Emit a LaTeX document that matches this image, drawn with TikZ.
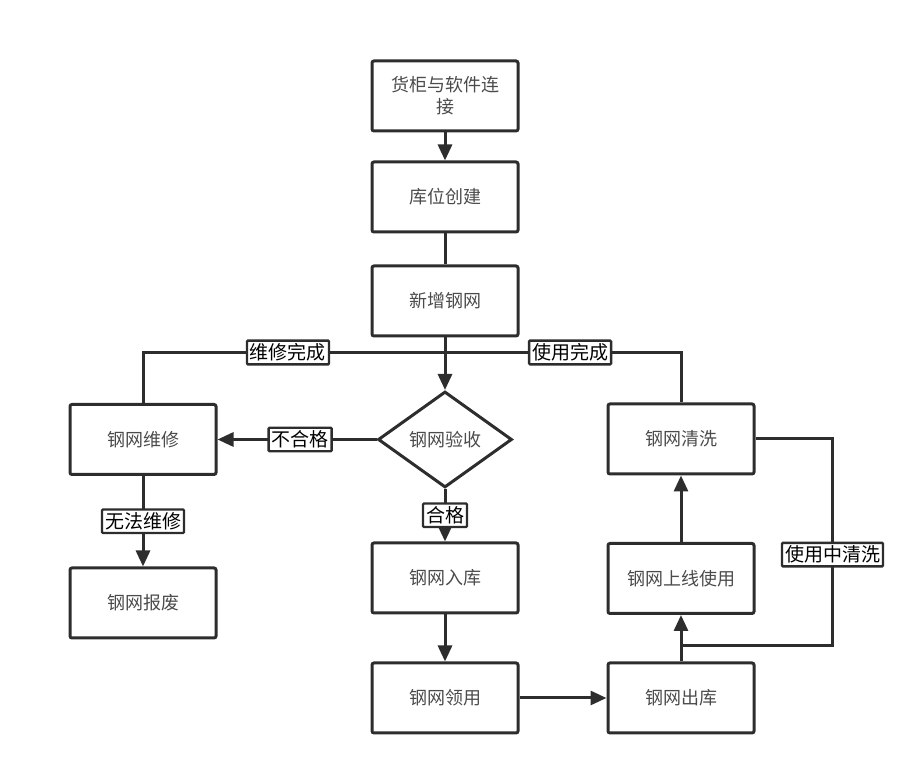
\documentclass[tikz,border=0pt]{standalone}
\usepackage{fontspec}
\setmainfont{Noto Sans CJK SC}
\usetikzlibrary{shapes.geometric,arrows.meta,positioning}
\definecolor{linegray}{RGB}{45,45,45}
\definecolor{textgray}{RGB}{75,75,75}

\begin{document}
\begin{tikzpicture}[
    every node/.style={font=\fontsize{9}{11}\selectfont},
    process/.style={rectangle, draw=linegray, line width=1.5pt, rounded corners=1pt, minimum width=73pt, minimum height=35pt, align=center, text=textgray},
    check/.style={diamond, draw=linegray, line width=1.5pt, aspect=1.4, inner sep=1pt, minimum width=67pt, minimum height=48pt, text=textgray},
    tag/.style={rectangle, draw=linegray, line width=1.2pt, fill=white, inner sep=1.5pt, rounded corners=0.5pt, font=\fontsize{9.5}{11}\selectfont},
    link/.style={draw=linegray, line width=1.5pt},
    flow/.style={link, -{Triangle[width=7pt,length=8pt]}}
]
    \useasboundingbox (0,0) rectangle (456pt,-389.5pt);

    % Main column
    \node[process] (connect) at (222.5pt,-48pt) {货柜与软件连\\接};
    \node[process, below=14pt of connect] (location) {库位创建};
    \node[process, below=15.5pt of location] (newnet) {新增钢网};
    \node[check, below=26.25pt of newnet] (inspect) {钢网验收};
    \node[process, below=26.25pt of inspect] (store) {钢网入库};
    \node[process, below=23.5pt of store] (receive) {钢网领用};

    % Right column
    \node[process, right=43.5pt of receive] (release) {钢网出库};
    \node[process, above=23.25pt of release] (online) {钢网上线使用};
    \node[process, above=33.25pt of online] (clean) {钢网清洗};

    % Left column
    \node[process, left=79.5pt of inspect] (repair) {钢网维修};
    \node[process, below=45.25pt of repair] (scrap) {钢网报废};

    % Joints
    \coordinate[below=7.5pt of newnet] (merge);
    \coordinate[above=8pt of release] (split);
    \coordinate[right=38.5pt of clean] (loop);

    % Edges
    \draw[flow] (connect) -- (location);
    \draw[link] (location) -- (newnet);
    \draw[flow] (newnet) -- (inspect);
    \draw[link] (repair) |- node[tag, pos=0.74] {维修完成} (merge);
    \draw[link] (clean) |- node[tag, pos=0.735] {使用完成} (merge);

    \draw[flow] (inspect) -- node[tag, pos=0.48] {不合格} (repair);
    \draw[flow] (inspect) -- node[tag] {合格} (store);
    \draw[flow] (repair) -- node[tag] {无法维修} (scrap);

    \draw[flow] (store) -- (receive);
    \draw[flow] (receive) -- (release);
    \draw[flow] (release) -- (online);
    \draw[flow] (online) -- (clean);
    \draw[link] (clean) -- (loop) |- node[tag, pos=0.28] {使用中清洗} (split);
\end{tikzpicture}
\end{document}
